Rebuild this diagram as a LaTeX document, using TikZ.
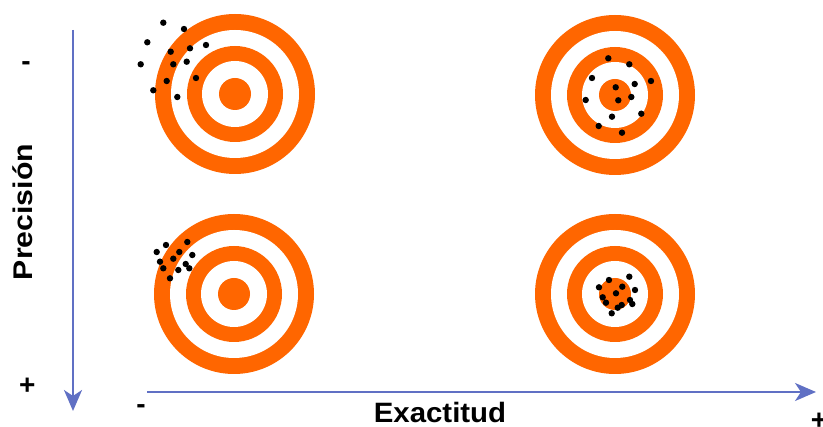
\documentclass[tikz,border=0pt]{standalone}
\usepackage{fontspec}
\setmainfont{Liberation Sans}
\usetikzlibrary{arrows.meta}
\definecolor{tgtorange}{RGB}{255,102,0}
\definecolor{axisblue}{RGB}{96,112,196}
\tikzset{
  target/.pic={
    \fill[tgtorange] (0,0) circle (80);
    \fill[white] (0,0) circle (64);
    \fill[tgtorange] (0,0) circle (48);
    \fill[white] (0,0) circle (33);
    \fill[tgtorange] (0,0) circle (16);
  },
  hit/.style={fill=black},
  axisline/.style={draw=axisblue, line width=2.4pt,
    -{Stealth[length=21pt,width=18pt,inset=6pt]}},
  sign/.style={inner sep=0pt, font=\bfseries\fontsize{28}{30}\selectfont},
  axislabel/.style={inner sep=0pt, anchor=base, font=\bfseries\fontsize{27}{30}\selectfont}
}
\begin{document}
\begin{tikzpicture}[x=1pt,y=-1pt]
\useasboundingbox[fill=white] (0,0) rectangle (823,427);
% targets
\pic at (235,94) {target};
\pic at (615,95) {target};
\pic at (234,294) {target};
\pic at (615,294) {target};
% hits: top-left
\foreach \p in {(163.3,22.7),(184,29),(147.3,42.3),(206,45),(170.7,51.7),(190,48.3),(140.7,64.3),(173.3,64.3),(186.7,61.7),(166.7,81),(196,78),(153.3,90.3),(177.3,97)}
  \fill[hit] \p circle (3.2);
% hits: top-right
\foreach \p in {(608.3,58.3),(629.3,64.3),(592,78),(651,81),(634.7,84),(615.7,87.3),(585.7,100),(618.3,100.3),(631.3,97),(641.3,113.7),(612,116.7),(598.7,126),(622,132.7)}
  \fill[hit] \p circle (3.2);
% hits: bottom-left
\foreach \p in {(166,245),(187.3,242),(156.7,252),(179.3,252),(192.3,255),(160,261.7),(173.3,258.7),(163.3,268.3),(185.7,264),(178.3,270),(189.3,268.3),(170,278.3)}
  \fill[hit] \p circle (3.2);
% hits: bottom-right
\foreach \p in {(629.3,276.7),(609,280),(599,287.3),(622.3,286.7),(635,290),(616,293.3),(602.7,297.3),(606,302.7),(630,300),(632.3,304),(621.7,305),(617.7,307.7),(611.7,313.3)}
  \fill[hit] \p circle (3.2);
% axes
\coordinate (vtop) at (73,30);
\coordinate (vend) at (73,411);
\coordinate (hstart) at (147,392);
\coordinate (hend) at (816,392);
\draw[axisline] (vtop) -- (vend);
\draw[axisline] (hstart) -- (hend);
% labels
\node[axislabel, rotate=90, xscale=1.12] (prec) at (32,212) {Precisión};
\node[axislabel, xscale=1.05, font=\bfseries\fontsize{28}{30}\selectfont] (exac) at (440,423) {Exactitud};
\node[sign] (pminus) at (26,66) {-};
\node[sign] (pplus) at (27.3,386) {+};
\node[sign] (eminus) at (141,409) {-};
\node[sign] (eplus) at (819,421) {+};
\end{tikzpicture}
\end{document}
